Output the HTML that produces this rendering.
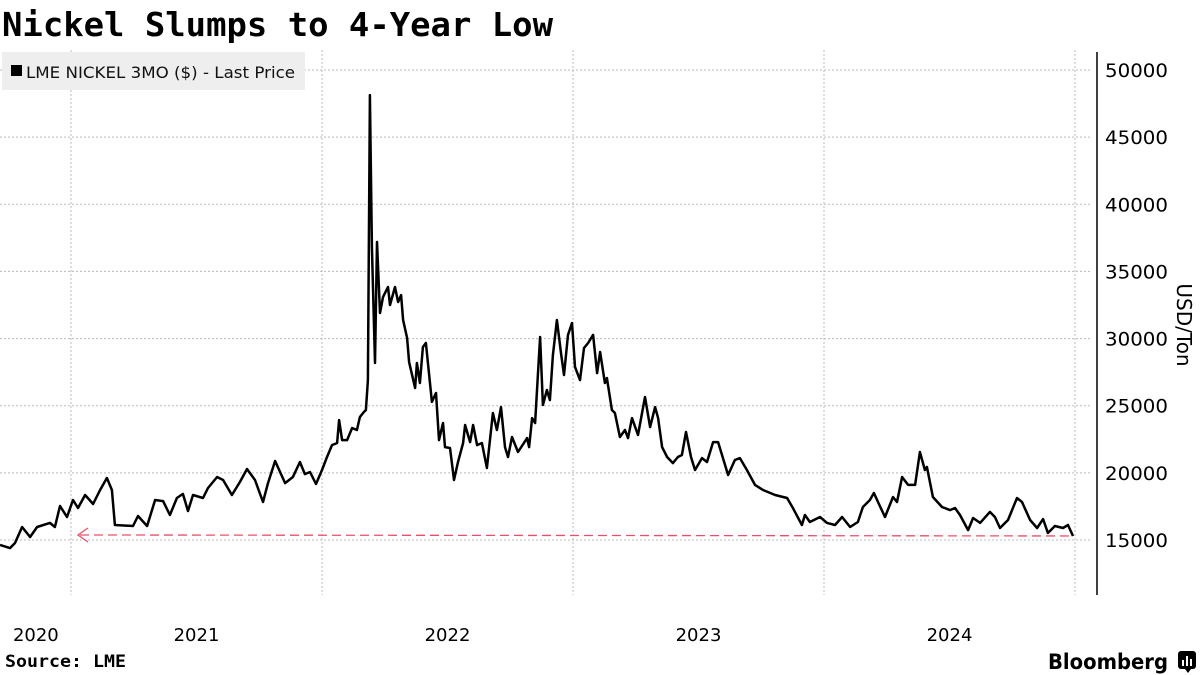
<!DOCTYPE html>
<html><head><meta charset="utf-8"><style>
html,body{margin:0;padding:0;background:#fff;width:1200px;height:675px;overflow:hidden;font-family:"DejaVu Sans","Liberation Sans",sans-serif;}
svg{position:absolute;left:0;top:0}
</style></head><body>
<svg id="chart" width="1200" height="675">
<text x="2" y="36" font-size="33" font-weight="bold" fill="#000" font-family="'DejaVu Sans Mono','Liberation Mono',monospace" textLength="551" lengthAdjust="spacingAndGlyphs">Nickel Slumps to 4-Year Low</text>
<g id="grid"></g>
<rect x="2" y="52" width="303" height="38" fill="#eeeeee"/>
<rect x="11" y="65" width="11" height="11" fill="#000"/>
<text x="26" y="78" font-size="16" fill="#111" textLength="269" lengthAdjust="spacingAndGlyphs">LME NICKEL 3MO ($) - Last Price</text>
<g id="yaxis"></g>
<g id="xaxis"></g>
<text transform="translate(1177,325) rotate(90)" text-anchor="middle" font-size="20" fill="#000">USD/Ton</text>
<g id="marks"></g>
<text x="5" y="667" font-size="17" font-weight="bold" fill="#000" font-family="'DejaVu Sans Mono','Liberation Mono',monospace" textLength="121" lengthAdjust="spacingAndGlyphs">Source: LME</text>
<text x="1048" y="669" font-size="21" font-weight="bold" fill="#000" textLength="120" lengthAdjust="spacingAndGlyphs">Bloomberg</text>
<g><rect x="1178" y="651" width="18" height="18" rx="3" fill="#000"/><rect x="1182" y="660" width="2" height="6" fill="#fff"/><rect x="1186" y="656" width="2" height="10" fill="#fff"/><rect x="1190" y="659" width="2" height="7" fill="#fff"/><path d="M1185 669 L1188 673 L1191 669Z" fill="#000"/></g>
</svg>
<script>
const dates=[2020.717,2020.757,2020.777,2020.805,2020.837,2020.865,2020.916,2020.936,2020.956,2020.984,2021.008,2021.028,2021.056,2021.088,2021.116,2021.143,2021.163,2021.175,2021.247,2021.267,2021.303,2021.335,2021.367,2021.394,2021.422,2021.446,2021.466,2021.486,2021.526,2021.546,2021.582,2021.606,2021.641,2021.673,2021.701,2021.733,2021.765,2021.785,2021.813,2021.853,2021.884,2021.912,2021.932,2021.952,2021.976,2022.000,2022.020,2022.040,2022.060,2022.068,2022.080,2022.100,2022.120,2022.139,2022.151,2022.167,2022.175,2022.183,2022.191,2022.199,2022.211,2022.219,2022.231,2022.243,2022.263,2022.271,2022.291,2022.303,2022.315,2022.323,2022.339,2022.347,2022.371,2022.378,2022.390,2022.402,2022.414,2022.438,2022.454,2022.466,2022.482,2022.490,2022.510,2022.526,2022.542,2022.562,2022.570,2022.590,2022.602,2022.618,2022.637,2022.657,2022.681,2022.697,2022.713,2022.729,2022.741,2022.757,2022.781,2022.817,2022.825,2022.837,2022.849,2022.869,2022.880,2022.896,2022.908,2022.920,2022.936,2022.952,2022.964,2022.980,2022.996,2023.008,2023.028,2023.044,2023.060,2023.080,2023.096,2023.108,2023.127,2023.135,2023.155,2023.167,2023.187,2023.207,2023.219,2023.235,2023.259,2023.287,2023.307,2023.327,2023.339,2023.355,2023.375,2023.398,2023.418,2023.434,2023.450,2023.470,2023.486,2023.514,2023.534,2023.558,2023.578,2023.618,2023.645,2023.665,2023.693,2023.725,2023.757,2023.805,2023.853,2023.876,2023.912,2023.924,2023.944,2023.984,2024.012,2024.044,2024.072,2024.104,2024.135,2024.155,2024.183,2024.199,2024.215,2024.243,2024.275,2024.291,2024.311,2024.335,2024.363,2024.382,2024.402,2024.410,2024.434,2024.470,2024.502,2024.522,2024.542,2024.574,2024.594,2024.622,2024.661,2024.681,2024.701,2024.733,2024.769,2024.789,2024.821,2024.849,2024.873,2024.892,2024.920,2024.952,2024.972,2024.992];
const prices=[14630,14400,14780,15970,15220,15970,16270,15970,17530,16710,17980,17380,18350,17680,18720,19620,18720,16120,16040,16790,16040,17980,17900,16860,18130,18430,17160,18350,18130,18870,19690,19470,18350,19320,20290,19470,17830,19240,20880,19240,19690,20810,19910,20060,19170,20210,21180,22070,22220,23930,22440,22440,23340,23190,24160,24530,24680,26910,48130,36820,28180,37190,31900,33090,33840,32500,33840,32720,33240,31380,30040,28250,26320,28180,26690,29370,29670,25280,25950,22440,23710,21920,21850,19470,20810,22220,23560,22290,23560,22070,22220,20360,24460,23190,24900,21920,21180,22670,21550,22590,21920,24080,23710,30120,25050,26170,25420,28770,31380,28920,27290,30270,31160,27890,26910,29300,29670,30270,27430,29000,26690,27060,24680,24460,22670,23190,22590,24080,22820,25650,23410,24900,24080,21920,21180,20730,21180,21330,23040,21180,20210,21100,20810,22290,22290,19840,20960,21100,20210,19100,18720,18350,18130,17380,16120,16860,16340,16710,16270,16120,16710,15970,16340,17460,17980,18500,17830,16710,18200,17830,19690,19100,19100,21550,20210,20440,18200,17460,17230,17380,16860,15740,16640,16270,17090,16710,15890,16490,18130,17830,16490,15890,16560,15520,16040,15890,16120,15300];
const yTicks=[15000,20000,25000,30000,35000,40000,45000,50000];
const yearLines=[2021,2022,2023,2024,2025];
const yearLabels=["2020","2021","2022","2023","2024"];
const yearLabelPos=[2020.86,2021.5,2022.5,2023.5,2024.5];

const NS="http://www.w3.org/2000/svg";
const xS=t=>71+(t-2021)*251;
const yS=v=>540-(v-15000)*0.013429;
function mk(tag,attrs,parent){const e=document.createElementNS(NS,tag);for(const k in attrs)e.setAttribute(k,attrs[k]);parent.appendChild(e);return e;}
const grid=document.getElementById('grid'),yax=document.getElementById('yaxis'),xax=document.getElementById('xaxis'),marks=document.getElementById('marks');
yTicks.forEach(v=>{
  const l=mk('line',{x1:0,x2:1090,y1:yS(v),y2:yS(v),stroke:'#bbb','stroke-width':1,'stroke-dasharray':'2,2'},grid);
  
  
  const t=mk('text',{x:1105,y:yS(v)+7,'font-size':19,fill:'#000',textLength:63,lengthAdjust:'spacingAndGlyphs'},yax);
  t.textContent=v;
  
  
});
yearLines.forEach(y=>{
  const l=mk('line',{x1:xS(y),x2:xS(y),y1:50,y2:595,stroke:'#bbb','stroke-width':1,'stroke-dasharray':'2,2'},grid);
  
  
});
yearLabels.forEach((s,i)=>{
  const t=mk('text',{x:xS(yearLabelPos[i]),y:641,'font-size':18,fill:'#000','text-anchor':'middle'},xax);
  t.textContent=s;
  
  
});
const ax=mk('line',{x1:1097,x2:1097,y1:52,y2:595,stroke:'#000','stroke-width':1.5},yax);


const last=prices[prices.length-1];
const ly=yS(last);
const ref=mk('line',{x1:xS(dates[0])+80,x2:xS(dates[dates.length-1]),y1:ly-1,y2:ly,stroke:'#e8506a','stroke-width':1.3,'stroke-dasharray':'9,5'},marks);


const ax0=xS(dates[0])+78;
const arr=mk('path',{d:`M${ax0+10} ${ly-8} L${ax0} ${ly-1} L${ax0+10} ${ly+6}`,fill:'none',stroke:'#e8506a','stroke-width':1.3},marks);


const d=dates.map((t,i)=>(i?'L':'M')+xS(t).toFixed(1)+' '+yS(prices[i]).toFixed(1)).join(' ');
const line=mk('path',{d:d,fill:'none',stroke:'#000','stroke-width':2.5,'stroke-linejoin':'round'},marks);


</script>
</body></html>
